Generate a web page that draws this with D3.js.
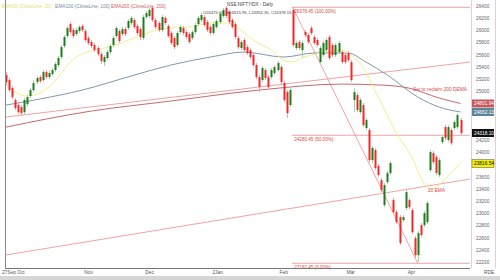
<!DOCTYPE html>
<html>
<head>
<meta charset="utf-8">
<script src="https://cdn.jsdelivr.net/npm/d3@7"></script>
<style>
  html, body { margin: 0; padding: 0; background: #fff; }
  #chart { width: 500px; height: 280px; }
  text { font-family: "Liberation Sans", Arial, sans-serif; }
</style>
</head>
<body>
<div id="chart"></div>
<script>
// daily candles, [open, high, low, close]
const candles = [
  [25268,25317,25104,25153],[25186,25219,24989,25022],[25055,25088,24874,24907],[24858,24891,24694,24727],
  [24776,24809,24628,24661],[24743,24776,24596,24645],[24661,24891,24628,24858],[24792,24940,24760,24907],
  [24924,25055,24891,25022],[25022,25186,24989,25137],[25153,25252,25120,25219],[25235,25268,25137,25170],
  [25186,25350,25153,25317],[25317,25350,25202,25235],[25235,25334,25202,25301],[25284,25383,25252,25350],
  [25350,25481,25317,25448],[25432,25580,25399,25547],[25563,25760,25530,25727],[25744,25924,25711,25891],
  [25908,26072,25875,26039],[26104,26137,25940,25973],[26006,26039,25875,25908],[25940,26039,25908,26006],
  [25990,26088,25957,26055],[26072,26104,25973,26006],[25990,26022,25809,25842],[25875,25908,25760,25793],
  [25809,25842,25711,25744],[25760,25793,25645,25678],[25711,25744,25580,25612],[25612,25645,25448,25498],
  [25481,25596,25416,25563],[25547,25678,25514,25645],[25645,25776,25612,25744],[25760,25908,25727,25875],
  [25908,26072,25875,26039],[25990,26022,25793,25826],[25940,26055,25908,26022],[26022,26055,25908,25940],
  [26039,26186,26006,26154],[26121,26236,26088,26203],[26170,26203,26022,26055],[26072,26104,25924,25957],
  [26022,26055,25842,25891],[25875,26252,25842,26219],[26219,26318,26186,26285],[26236,26367,26203,26334],
  [26367,26400,26137,26170],[26170,26203,26022,26055],[26121,26154,25973,26006],[26006,26252,25973,26219],
  [26203,26236,26088,26121],[26072,26104,25875,25908],[25957,25990,25760,25793],[25875,25908,25694,25727],
  [25760,25990,25727,25957],[25973,26088,25940,26055],[26039,26072,25924,25957],[25973,26006,25858,25891],
  [25940,25973,25776,25809],[25875,26006,25842,25973],[25973,26121,25940,26088],[26104,26236,26072,26203],
  [26170,26285,26137,26252],[26219,26252,26055,26088],[26137,26170,25973,26006],[26055,26088,25924,25957],
  [25957,26137,25924,26104],[26055,26186,26022,26154],[26137,26301,26104,26268],[26236,26367,26203,26334],
  [26367,26400,26203,26236],[26301,26334,26104,26137],[26170,26203,26022,26055],[26104,26137,25858,25891],
  [25875,25908,25694,25727],[25711,25842,25678,25809],[25842,25875,25645,25678],[25727,25760,25596,25629],
  [25678,25711,25530,25563],[25596,25629,25399,25432],[25432,25465,25202,25235],[25235,25268,24989,25071],
  [25186,25416,25153,25383],[25350,25383,25186,25219],[25235,25268,25038,25071],[25235,25383,25202,25350],
  [25301,25432,25268,25399],[25350,25498,25317,25465],[25399,25432,25120,25153],[25137,25170,24825,24858],
  [24989,25022,24563,24645],[24776,25055,24743,25022],[26334,26367,25727,25760],[25711,25826,25678,25793],
  [25809,25842,25678,25711],[25678,25826,25563,25793],[25973,26006,25891,25924],[25924,25957,25776,25809],
  [26039,26072,25924,25957],[25891,25924,25760,25793],[25842,25875,25727,25760],[25481,25744,25448,25711],
  [25596,25826,25563,25793],[25678,25875,25645,25842],[25891,25924,25514,25547],[25760,25793,25563,25596],
  [25596,25793,25563,25760],[25645,25826,25612,25793],[25645,25678,25448,25481],[25596,25629,25448,25481],
  [25629,25662,25481,25514],[25481,25514,25153,25186],[24858,25055,24661,24989],[24940,24973,24661,24694],
  [24661,24891,24628,24858],[24776,24809,24415,24448],[24399,24563,24366,24530],[24366,24399,23841,23874],
  [23874,24104,23825,24071],[24038,24071,23710,23743],[23776,23809,23595,23628],[23546,23579,23349,23382],
  [23136,23497,23103,23464],[23513,23694,23480,23661],[23661,23858,23628,23825],[23218,23251,22988,23021],
  [23021,23054,22824,22857],[22939,22972,22480,22513],[22890,22972,22857,22939],[23087,23382,23054,23349],
  [23218,23251,23070,23103],[23054,23087,22660,22693],[22595,22628,22267,22316],[22316,22710,22201,22677],
  [22808,22841,22611,22644],[22808,23038,22775,23005],[22857,23202,22824,23169],[23710,24038,23677,24005],
  [23989,24021,23808,23841],[23923,23956,23628,23661],[23628,23907,23595,23874],[24169,24284,24136,24251],
  [24415,24448,24202,24235],[24202,24448,24169,24415],[24366,24399,24120,24153],[24399,24530,24366,24497],
  [24415,24645,24382,24612],[24530,24563,24285,24318.10]
];

// x-axis labels and the candle index each one sits on
const tickLabels = ["27Sep", "Oct", "Nov", "Dec", "2Jan", "Feb", "Mar", "Apr"];
const tickIndex = [-1, 4, 26, 46, 68, 90, 112, 132];

// price axis
const priceTicks = d3.range(22200, 26401, 200);

// moving averages: [index, value]
const ema20 = [[0,25104],[3,24989],[7,24924],[11,24973],[14,25071],[23,25563],[29,25678],[34,25727],
  [42,25875],[47,25973],[54,26039],[60,26055],[67,26121],[72,26121],[77,26006],[81,25842],[87,25678],
  [91,25514],[94,25481],[97,25547],[103,25629],[110,25678],[112,25629],[117,25399],[122,24907],
  [128,24317],[133,23923],[137,23497],[139,23400],[142,23470],[146,23680],[149,23816.54]];
const ema100 = [[0,24776],[11,24874],[25,25022],[41,25252],[54,25432],[67,25563],[78,25645],[91,25563],
  [101,25629],[112,25629],[118,25481],[125,25268],[135,24907],[142,24743],[149,24662.13]];
const ema200 = [[0,24415],[28,24678],[54,24842],[83,25022],[110,25120],[123,25104],[132,25055],
  [142,24891],[149,24801.94]];

// drawn trend lines: [[i0, v0], [i1, v1]]
const upperTrend = [[-0.33, 24579], [152.1, 25481]];
const lowerTrend = [[-0.33, 22316], [152.1, 23563]];

// fibonacci retracement
const fibStart = [94, 26378.45];
const fibEnd = [135, 22182.45];
const fibLevels = [
  { value: 26378.45, label: "26378.45 (100.00%)" },
  { value: 24280.45, label: "24280.45 (50.00%)" },
  { value: 22182.45, label: "22182.45 (0.00%)" }
];

const lastValues = [
  { value: 24801.94, fill: "#c8585c", color: "#fff" },
  { value: 24662.13, fill: "#5e8599", color: "#fff" },
  { value: 24318.10, fill: "#111", color: "#fff" },
  { value: 23816.54, fill: "#f3f000", color: "#000" }
];

const W = 500, H = 280;
const plotRight = 470, plotBottom = 268;

const svg = d3.select("#chart").append("svg")
  .attr("width", W).attr("height", H);

const x = d3.scaleLinear().domain([-0.33, 152.1]).range([5, plotRight]);
const y = d3.scaleLinear().domain([22200, 26400]).range([262.2, 6]);

// bottom status strip
svg.append("rect").attr("x", 0).attr("y", 276).attr("width", W).attr("height", 4).attr("fill", "#d6d6d6");

// right price panel borders
svg.append("line").attr("x1", 471.5).attr("x2", 471.5).attr("y1", 0).attr("y2", plotBottom)
  .attr("stroke", "#f0c8d8");
svg.append("line").attr("x1", 495.5).attr("x2", 495.5).attr("y1", 0).attr("y2", plotBottom)
  .attr("stroke", "#f0c8d8");

const plot = svg.append("g");

// trend lines
const line2 = d3.line().x(d => x(d[0])).y(d => y(d[1]));
[upperTrend, lowerTrend].forEach(t => {
  plot.append("path").attr("d", line2(t)).attr("fill", "none")
    .attr("stroke", "#ef8a8a").attr("stroke-width", 0.8);
});

// fib
fibLevels.forEach(f => {
  plot.append("line")
    .attr("x1", x(fibStart[0]) - 1).attr("x2", plotRight)
    .attr("y1", y(f.value)).attr("y2", y(f.value))
    .attr("stroke", "#f08c8c").attr("stroke-width", 0.8);
});
plot.append("path").attr("d", line2([fibStart, fibEnd])).attr("fill", "none")
  .attr("stroke", "#f08c8c").attr("stroke-width", 0.8);

// moving averages
const curve = d3.line().x(d => x(d[0])).y(d => y(d[1])).curve(d3.curveMonotoneX);
plot.append("path").attr("d", curve(ema200)).attr("fill", "none").attr("stroke", "#c0585c").attr("stroke-width", 0.9);
plot.append("path").attr("d", curve(ema100)).attr("fill", "none").attr("stroke", "#6f8f9f").attr("stroke-width", 0.9);
plot.append("path").attr("d", curve(ema20)).attr("fill", "none").attr("stroke", "#f4ef8c").attr("stroke-width", 1);

// candles
const cg = plot.append("g");
candles.forEach((c, i) => {
  const [o, h, l, cl] = c;
  const up = cl >= o;
  const cx = Math.round(x(i));
  cg.append("line")
    .attr("x1", cx + 0.5).attr("x2", cx + 0.5)
    .attr("y1", y(h)).attr("y2", y(l))
    .attr("stroke", up ? "#9fd89f" : "#f5a3a3").attr("stroke-width", 1);
  cg.append("rect")
    .attr("x", cx - 0.5).attr("width", 2)
    .attr("y", y(Math.max(o, cl)))
    .attr("height", Math.max(1, Math.abs(y(o) - y(cl))))
    .attr("fill", up ? "#1f7d1f" : "#ee2b2b");
});

// fib labels
fibLevels.forEach(f => {
  plot.append("text")
    .attr("x", x(fibStart[0]) + 1.5).attr("y", y(f.value) + 5.5)
    .attr("font-size", 4.6).attr("fill", "#e04848")
    .text(f.label);
});

// annotations
plot.append("text").attr("x", 413).attr("y", 91).attr("font-size", 4.8).attr("fill", "#e04848")
  .text("Set to reclaim 200 DEMA");
plot.append("text").attr("x", 428).attr("y", 192).attr("font-size", 4.8).attr("fill", "#e04848")
  .text("20 EMA");

// legend
const legend = [
  { t: "EMA20 (CloseLine, 20)", c: "#e8e070", x: 2 },
  { t: "EMA100 (CloseLine, 100)", c: "#6f8f9f", x: 55 },
  { t: "EMA200 (CloseLine, 200)", c: "#d06060", x: 111 }
];
legend.forEach(d => {
  svg.append("text").attr("x", d.x).attr("y", 8).attr("font-size", 4.8).attr("fill", d.c).text(d.t);
});

// header
svg.append("text").attr("x", 250).attr("y", 6).attr("text-anchor", "middle")
  .attr("font-size", 4.6).attr("fill", "#444").text("NSE:NIFTYIDX - Daily");
svg.append("text").attr("x", 203).attr("y", 14)
  .attr("font-size", 4.2).attr("fill", "#444").text("O24475.00, H24515.95, L24352.35, C24378.15");

// axes frame
svg.append("line").attr("x1", 5.5).attr("x2", 5.5).attr("y1", 0).attr("y2", plotBottom)
  .attr("stroke", "#888");
svg.append("line").attr("x1", 5).attr("x2", plotRight).attr("y1", plotBottom + 0.5).attr("y2", plotBottom + 0.5)
  .attr("stroke", "#777");

// x labels
tickLabels.forEach((t, k) => {
  svg.append("text").attr("x", x(tickIndex[k]) - 1).attr("y", 274)
    .attr("font-size", 4.8).attr("fill", "#555").text(t);
});
svg.append("text").attr("x", 484).attr("y", 274).attr("font-size", 4.8).attr("fill", "#555").text("RDE");

// price labels, hidden where a last-value box covers them
const yAxis = svg.append("g");
priceTicks
  .filter(v => lastValues.every(d => Math.abs(y(v) - y(d.value)) > 6))
  .forEach(v => {
    yAxis.append("text").attr("x", 476).attr("y", y(v) + 1.8)
      .attr("font-size", 4.8).attr("fill", "#666").text(v);
  });

// last value boxes
lastValues.forEach(d => {
  const cy = y(d.value);
  yAxis.append("rect").attr("x", 472).attr("y", cy - 4).attr("width", 22).attr("height", 8)
    .attr("fill", d.fill).attr("stroke", d.fill === "#f3f000" ? "#555" : "none").attr("stroke-width", 0.5);
  yAxis.append("text").attr("x", 474).attr("y", cy + 1.8)
    .attr("font-size", 4.8).attr("fill", d.color).text(d.value.toFixed(2));
});
</script>
</body>
</html>
